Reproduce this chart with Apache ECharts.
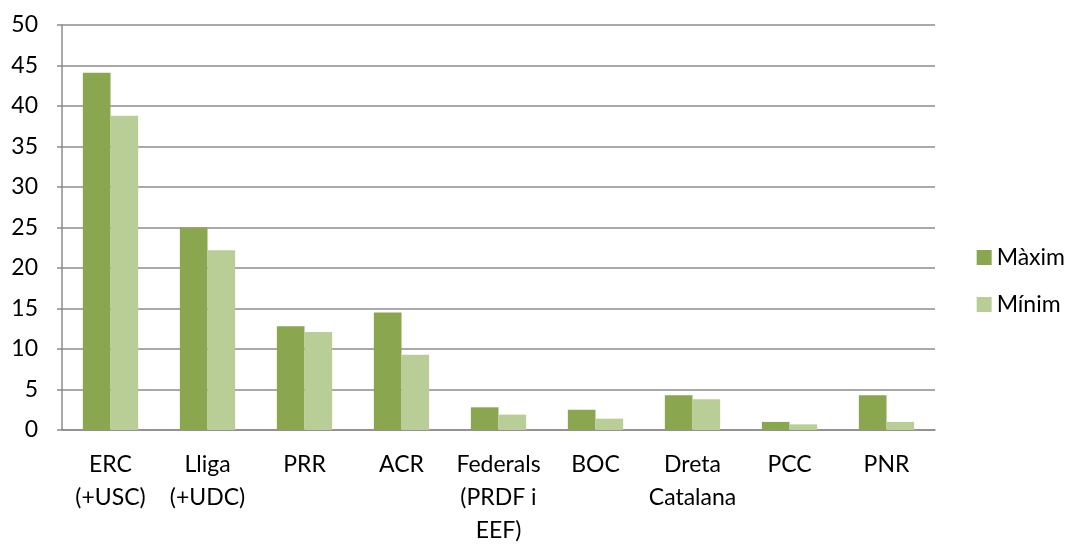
<!DOCTYPE html>
<html>
<head>
<meta charset="utf-8">
<script src="https://cdn.jsdelivr.net/npm/echarts@6/dist/echarts.min.js"></script>
<style>
  html, body { margin: 0; padding: 0; background: #fff; }
  #chart { width: 1074px; height: 556px; }
</style>
</head>
<body>
<div id="chart"></div>
<script>
// party names and the two estimates
var parties = ["ERC\n(+USC)", "Lliga\n(+UDC)", "PRR", "ACR", "Federals\n(PRDF i\nEEF)", "BOC", "Dreta\nCatalana", "PCC", "PNR"];
var maxim = [44.1, 25.0, 12.8, 14.5, 2.8, 2.5, 4.3, 1.0, 4.3];
var minim = [38.8, 22.2, 12.1, 9.3, 1.9, 1.4, 3.8, 0.7, 1.0];

var myChart = echarts.init(document.getElementById("chart"));
var font = "Lato, 'Open Sans', sans-serif";

var option = {
    animation: false,
    textStyle: { fontFamily: font },
    grid: { left: 62, right: 139, top: 25, bottom: 126, containLabel: false },
    legend: {
        orient: "vertical",
        right: 4,
        top: 241,
        itemWidth: 15,
        itemHeight: 15,
        itemGap: 24,
        icon: "rect",
        textStyle: { fontSize: 23, color: "#000", fontFamily: font },
        data: ["Màxim", "Mínim"]
    },
    xAxis: {
        type: "category",
        data: parties,
        axisLine: { lineStyle: { color: "#8c8c8c", width: 1.5 } },
        axisTick: { show: false },
        axisLabel: {
            interval: 0,
            margin: 18,
            fontSize: 23,
            lineHeight: 33,
            color: "#000",
            fontFamily: font
        }
    },
    yAxis: {
        type: "value",
        min: 0,
        max: 50,
        interval: 5,
        axisLine: { show: true, lineStyle: { color: "#8c8c8c", width: 1.5 } },
        axisTick: { show: true, length: 5, lineStyle: { color: "#8c8c8c", width: 1.5 } },
        splitLine: { lineStyle: { color: "#8c8c8c", width: 1.5 } },
        axisLabel: { fontSize: 23, color: "#000", margin: 24, fontFamily: font }
    },
    series: [
        {
            name: "Màxim",
            type: "bar",
            data: maxim,
            barGap: "0%",
            barCategoryGap: "43%",
            itemStyle: { color: "#8aa64f" }
        },
        {
            name: "Mínim",
            type: "bar",
            data: minim,
            itemStyle: { color: "#b9ce96" }
        }
    ]
};

myChart.setOption(option);
</script>
</body>
</html>
